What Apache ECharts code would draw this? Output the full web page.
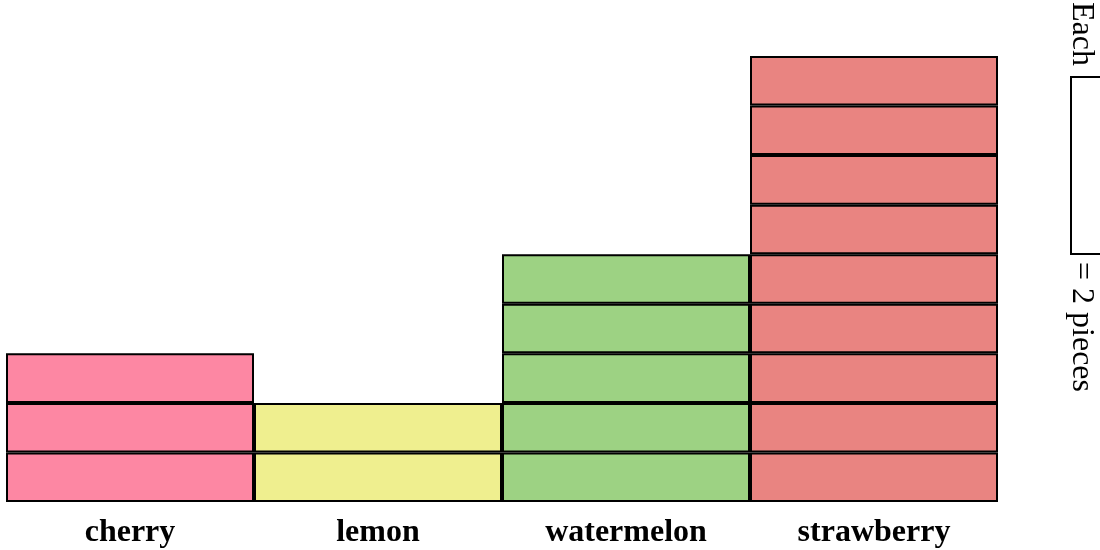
<!DOCTYPE html>
<html>
<head>
<meta charset="utf-8">
<script src="https://cdn.jsdelivr.net/npm/echarts@6/dist/echarts.min.js"></script>
<style>
  html, body { margin: 0; padding: 0; background: #fff; }
  #chart { width: 1100px; height: 550px; }
</style>
</head>
<body>
<div id="chart"></div>
<script>
// fruit pictograph: each box = 2 pieces
const fruits = ['cherry', 'lemon', 'watermelon', 'strawberry'];
const pieces = [6, 4, 10, 18];
const fruitColors = ['#fd87a3', '#efef8f', '#9dd283', '#e98481'];
const unit = 2;
const unitLabel = 'pieces';

const counts = pieces.map(v => Math.round(v / unit));
const maxCount = Math.max(...counts);

// one stacked series per box level
const series = [];
for (let k = 0; k < maxCount; k++) {
    series.push({
        type: 'bar',
        stack: 'boxes',
        barWidth: '100%',
        silent: true,
        data: counts.map(c => (c > k ? unit : '-')),
        itemStyle: {
            color: p => fruitColors[p.dataIndex],
            borderColor: '#000',
            borderWidth: 2
        }
    });
}

const font = '"Liberation Serif", "Times New Roman", serif';

const option = {
    backgroundColor: '#fff',
    animation: false,
    grid: { left: 6, right: 102, top: 56, bottom: 48 },
    xAxis: {
        type: 'category',
        data: fruits,
        axisLine: { show: false },
        axisTick: { show: false },
        axisLabel: {
            margin: 15,
            fontFamily: font,
            fontWeight: 'bold',
            fontSize: 32,
            color: '#000'
        }
    },
    yAxis: {
        type: 'value',
        min: 0,
        max: unit * maxCount,
        show: false,
        splitLine: { show: false }
    },
    graphic: [
        {
            type: 'text',
            x: 1081, y: 66,
            rotation: -Math.PI / 2,
            style: {
                text: 'Each',
                fontFamily: font, fontSize: 32, fill: '#000',
                textAlign: 'right', textVerticalAlign: 'middle'
            }
        },
        {
            type: 'rect',
            shape: { x: 1071, y: 77, width: 60, height: 177 },
            style: { fill: '#fff', stroke: '#000', lineWidth: 2 }
        },
        {
            type: 'text',
            x: 1081, y: 262,
            rotation: -Math.PI / 2,
            style: {
                text: '= ' + unit + ' ' + unitLabel,
                fontFamily: font, fontSize: 32, fill: '#000',
                textAlign: 'left', textVerticalAlign: 'middle'
            }
        }
    ],
    series: series
};

const myChart = echarts.init(document.getElementById('chart'));
myChart.setOption(option);
</script>
</body>
</html>
